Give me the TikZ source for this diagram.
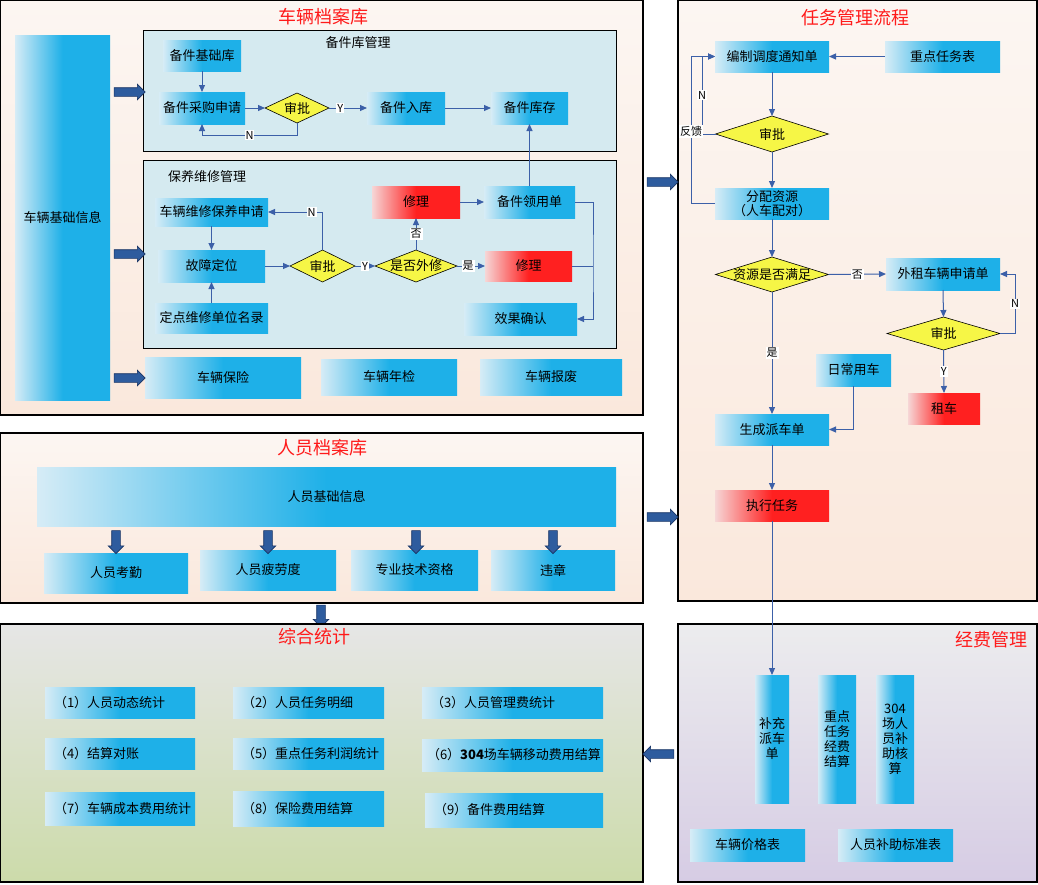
\documentclass[tikz,border=0pt]{standalone}
\usepackage{fontspec}
\newfontfamily\cjk{Noto Sans CJK SC}
\usetikzlibrary{shapes.geometric,shapes.arrows,arrows.meta}

\definecolor{bxlight}{RGB}{214,236,246}
\definecolor{bxblue}{RGB}{30,176,232}
\definecolor{rdlight}{RGB}{246,214,214}
\definecolor{rdred}{RGB}{255,32,32}
\definecolor{dmyellow}{RGB}{246,246,70}
\definecolor{lnblue}{RGB}{60,96,168}
\definecolor{blkarrow}{RGB}{46,92,158}
\definecolor{blkedge}{RGB}{24,52,100}
\definecolor{peachtop}{RGB}{252,246,242}
\definecolor{peachbot}{RGB}{250,232,220}
\definecolor{subpanel}{RGB}{213,234,240}
\definecolor{tjtop}{RGB}{230,230,230}
\definecolor{tjbot}{RGB}{204,219,170}
\definecolor{jftop}{RGB}{236,236,238}
\definecolor{jfbot}{RGB}{214,204,228}
\definecolor{ttlred}{RGB}{255,26,26}

\tikzset{sz/.style 2 args={minimum width=#1pt,minimum height=#2pt}}

\begin{document}
\begin{tikzpicture}[x=1pt,y=-1pt,
    font=\cjk\fontsize{13}{15}\selectfont,
    >={Triangle[length=7pt,width=6pt]},
    every node/.style={inner sep=0pt,outer sep=0pt},
    panel/.style={rectangle,draw=black,line width=1.2pt},
    peach/.style={panel,top color=peachtop,bottom color=peachbot},
    subbox/.style={rectangle,draw=black,line width=0.8pt,fill=subpanel},
    bluebox/.style={rectangle,left color=bxlight,right color=bxblue,middle color=bxblue,align=center},
    redbox/.style={rectangle,left color=rdlight,right color=rdred,middle color=rdred},
    stat/.style={bluebox,align=left},
    check/.style={diamond,draw=black,line width=0.6pt,fill=dmyellow,inner sep=-3pt},
    ttl/.style={text=ttlred,font=\cjk\fontsize{18}{20}\selectfont},
    flow/.style={->,draw=lnblue,line width=1pt},
    lbl/.style={fill=white,inner sep=1pt,font=\cjk\fontsize{11}{12}\selectfont},
    fat/.style={single arrow,draw=blkedge,fill=blkarrow,line width=0.6pt,inner xsep=0pt,inner ysep=4pt,minimum height=31pt,minimum width=0pt,single arrow head extend=3.5pt}]
    \useasboundingbox (0,0) rectangle (1038,884);

    % vehicle archive
    \draw (321.5,207.5) node (carpanel) [peach,sz={643}{415}] {};
    \draw (323,17) node (cartitle) [ttl] {车辆档案库};
    \draw (62.5,217.5) node (carinfo) [bluebox,sz={95}{365}] {车辆基础信息};

    \draw (379.5,90.5) node (sparepanel) [subbox,sz={473}{121}] {};
    \draw (358,43) node (sparetitle) {备件库管理};
    \draw (202,55.5) node (sparebase) [bluebox,sz={78}{31}] {备件基础库};
    \draw (202,108) node (sparebuy) [bluebox,sz={86}{32}] {备件采购申请};
    \draw (297,108) node (spareok) [check,sz={64}{30},aspect=2] {审批};
    \draw (406,108) node (sparein) [bluebox,sz={78}{32}] {备件入库};
    \draw (529.5,108) node (sparestock) [bluebox,sz={77}{32}] {备件库存};

    \draw [flow] (sparebase.south) to (sparebuy.north);
    \draw [flow] (sparebuy.east) to (spareok.west);
    \draw [flow] (spareok.east) to node [lbl,pos=0.3] {Y} (sparein.west);
    \draw [flow] (sparein.east) to (sparestock.west);
    \draw [flow] (spareok.south) -- ++(0,12) -| node [lbl,pos=0.25] {N} (sparebuy.south);

    \draw (379.5,254) node (repairpanel) [subbox,sz={473}{188}] {};
    \draw (207,177) node (repairtitle) {保养维修管理};
    \draw (211.5,212) node (repairapply) [bluebox,sz={113}{28}] {车辆维修保养申请};
    \draw (211.5,266) node (repairfault) [bluebox,sz={107}{32}] {故障定位};
    \draw (211.5,318) node (repairunit) [bluebox,sz={113}{30}] {定点维修单位名录};
    \draw (322.5,266) node (repairok) [check,sz={65}{32},aspect=2] {审批};
    \draw (416,266) node (repairout) [check,sz={82}{32},aspect=2.5] {是否外修};
    \draw (416,202) node (repairfixa) [redbox,sz={88}{32}] {修理};
    \draw (529.5,202) node (repairpick) [bluebox,sz={91}{32}] {备件领用单};
    \draw (528.5,266) node (repairfixb) [redbox,sz={87}{30}] {修理};
    \draw (520.5,319) node (repaircheck) [bluebox,sz={113}{32}] {效果确认};
    \coordinate (repairbus) at (593,266);

    \draw [flow] (repairapply.south) to (repairfault.north);
    \draw [flow] (repairunit.north) to (repairfault.south);
    \draw [flow] (repairfault.east) to (repairok.west);
    \draw [flow] (repairok.north) |- node [lbl,pos=0.6] {N} (repairapply.east);
    \draw [flow] (repairok.east) to node [lbl] {Y} (repairout.west);
    \draw [flow] (repairout.east) to node [lbl,pos=0.4] {是} (repairfixb.west);
    \draw [flow] (repairout.north) to node [lbl] {否} (repairfixa.south);
    \draw [flow] (repairfixa.east) to (repairpick.west);
    \draw [flow] (repairpick.north) to (sparestock.south);
    \draw [flow] (repairpick.east) -| (repairbus) |- (repaircheck.east);
    \draw [draw=lnblue,line width=1pt] (repairfixb.east) to (repairbus);

    \draw (223,377.5) node (carinsure) [bluebox,sz={156}{41}] {车辆保险};
    \draw (389,377) node (carinspect) [bluebox,sz={136}{36}] {车辆年检};
    \draw (551,377) node (carscrap) [bluebox,sz={142}{36}] {车辆报废};

    \draw (127.5,92) node (fatspare) [fat] {};
    \draw (127.5,254) node (fatrepair) [fat] {};
    \draw (127.5,378) node (fatinsure) [fat] {};

    % staff archive
    \draw (321.5,518) node (staffpanel) [peach,sz={643}{170}] {};
    \draw (322,448) node (stafftitle) [ttl] {人员档案库};
    \draw (326.5,496.5) node (staffinfo) [bluebox,sz={579}{59}] {人员基础信息};
    \draw (116,573) node (staffattend) [bluebox,sz={144}{40}] {人员考勤};
    \draw (268,570) node (stafftired) [bluebox,sz={136}{40}] {人员疲劳度};
    \draw (414.5,570) node (staffskill) [bluebox,sz={127}{40}] {专业技术资格};
    \draw (553,570) node (staffviolate) [bluebox,sz={124}{40}] {违章};
    \foreach \x/\n in {116/a,268/b,416/c,553/d}
        \draw (\x,540) node (fatstaff\n) [fat,rotate=-90,minimum height=23pt] {};
    \draw (321,614) node (fatstats) [fat,rotate=-90,minimum height=22pt] {};

    % statistics
    \draw (321.5,753) node (statpanel) [panel,top color=tjtop,bottom color=tjbot,sz={643}{258}] {};
    \draw (314,637) node (stattitle) [ttl] {综合统计};
    \draw (120,702.5) node (stata) [stat,sz={150}{31},text width=132pt] {（1）人员动态统计};
    \draw (308.5,702.5) node (statb) [stat,sz={151}{31},text width=133pt] {（2）人员任务明细};
    \draw (512.5,702.5) node (statc) [stat,sz={181}{31},text width=163pt] {（3）人员管理费统计};
    \draw (120,753.5) node (statd) [stat,sz={150}{31},text width=132pt] {（4）结算对账};
    \draw (308.5,753.5) node (state) [stat,sz={151}{31},text width=133pt] {（5）重点任务利润统计};
    \draw (512.5,755) node (statf) [stat,sz={181}{32},text width=171pt] {（6）{\bfseries 304}场车辆移动费用结算};
    \draw (120,808.5) node (statg) [stat,sz={150}{33},text width=132pt] {（7）车辆成本费用统计};
    \draw (308.5,808.5) node (stath) [stat,sz={151}{35},text width=133pt] {（8）保险费用结算};
    \draw (514,810) node (stati) [stat,sz={178}{34},text width=160pt] {（9）备件费用结算};

    % task flow
    \draw (857.5,300.5) node (taskpanel) [peach,sz={359}{601}] {};
    \draw (855,18) node (tasktitle) [ttl] {任务管理流程};
    \draw (772,56.5) node (tasknotice) [bluebox,sz={114}{31}] {编制调度通知单};
    \draw (942.5,56.5) node (taskkey) [bluebox,sz={115}{31}] {重点任务表};
    \draw (772,134) node (taskok) [check,sz={113}{36},aspect=3] {审批};
    \draw (772,203.5) node (taskalloc) [bluebox,sz={114}{31},font=\cjk\fontsize{13}{14}\selectfont] {分配资源\\（人车配对）};
    \draw (772,274.5) node (taskenough) [check,sz={113}{35},aspect=3] {资源是否满足};
    \draw (943,274) node (taskrent) [bluebox,sz={114}{32}] {外租车辆申请单};
    \draw (943.5,333.5) node (taskrentok) [check,sz={113}{33},aspect=3] {审批};
    \draw (944,408.5) node (taskcar) [redbox,sz={72}{31}] {租车};
    \draw (853.5,370) node (taskdaily) [bluebox,sz={75}{32}] {日常用车};
    \draw (772,429.5) node (taskdispatch) [bluebox,sz={114}{31}] {生成派车单};
    \draw (772,505.5) node (taskexec) [redbox,sz={114}{31}] {执行任务};
    \coordinate (taskloopn) at (702,134);
    \coordinate (taskloopf) at (691,203.5);
    \coordinate (taskloopr) at (1015,333.5);

    \draw [flow] (taskkey.west) to (tasknotice.east);
    \draw [flow] (tasknotice.south) to (taskok.north);
    \draw [flow] (taskok.west) -- (taskloopn) |- node [lbl,pos=0.25] {N} (tasknotice.west);
    \draw [flow] (taskalloc.west) -- (taskloopf) |- node [lbl,pos=0.245] {反馈} (tasknotice.west);
    \draw [flow] (taskok.south) to (taskalloc.north);
    \draw [flow] (taskalloc.south) to (taskenough.north);
    \draw [flow] (taskenough.east) to node [lbl] {否} (taskrent.west);
    \draw [flow] (taskrent.south) to (taskrentok.north);
    \draw [flow] (taskrentok.east) -- (taskloopr) |- node [lbl,pos=0.25] {N} (taskrent.east);
    \draw [flow] (taskrentok.south) to node [lbl] {Y} (taskcar.north);
    \draw [flow] (taskenough.south) to node [lbl] {是} (taskdispatch.north);
    \draw [flow] (taskdaily.south) |- (taskdispatch.east);
    \draw [flow] (taskdispatch.south) to (taskexec.north);

    \draw (660.5,182) node (fattask) [fat] {};
    \draw (660.5,517) node (fatstaff) [fat] {};

    % fees
    \draw (857.5,753) node (feepanel) [panel,top color=jftop,bottom color=jfbot,sz={359}{258}] {};
    \draw (991,640) node (feetitle) [ttl] {经费管理};
    \draw (772,739) node (feeadd) [bluebox,sz={34}{128}] {补充\\派车\\单};
    \draw (837,739) node (feekey) [bluebox,sz={38}{128}] {重点\\任务\\经费\\结算};
    \draw (895,739) node (fee304) [bluebox,sz={38}{128}] {304\\场人\\员补\\助核\\算};
    \draw (747.5,845) node (feecar) [bluebox,sz={115}{32}] {车辆价格表};
    \draw (895.5,845) node (feesub) [bluebox,sz={115}{32}] {人员补助标准表};
    \draw [flow] (taskexec.south) to (feeadd.north);

    \draw (660.5,754) node (fatfee) [fat,rotate=180] {};
\end{tikzpicture}
\end{document}
